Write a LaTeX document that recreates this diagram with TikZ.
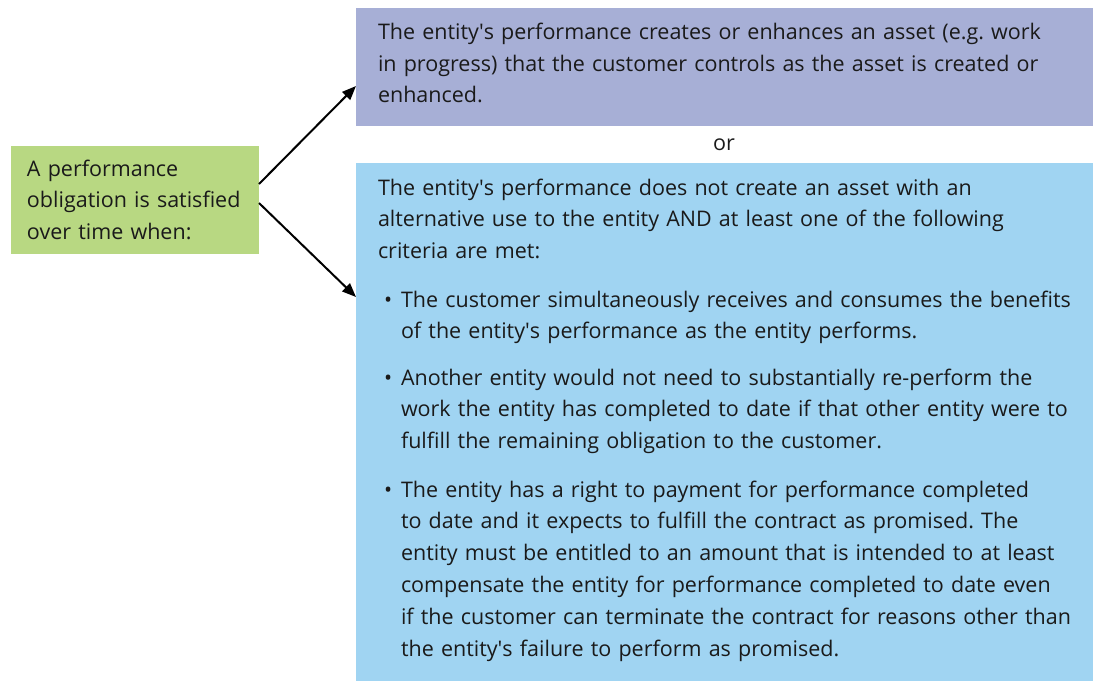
\documentclass[tikz,border=0pt]{standalone}
\usepackage{fontspec}
\setmainfont{Open Sans}
\usetikzlibrary{arrows.meta}
\definecolor{greenbox}{HTML}{B8D882}
\definecolor{purplebox}{HTML}{A7AFD6}
\definecolor{bluebox}{HTML}{A0D4F2}
\definecolor{txt}{HTML}{1A1A1A}
\newcommand{\ap}{\textquotesingle}
\tikzset{
  box/.style={draw=none, inner sep=0pt, outer sep=0pt},
  para/.style={anchor=base west, inner sep=0pt, outer sep=0pt, align=left, text width=720pt,
    text=txt, font=\fontsize{21.5}{31.8}\selectfont\frenchspacing},
  bul/.style={anchor=base west, inner sep=0pt, text=txt, font=\fontsize{21.5}{31.8}\selectfont},
  conn/.style={-{Triangle[length=14pt,width=11pt]}, line width=2pt, black}
}
\begin{document}
\begin{tikzpicture}[x=1pt,y=-1pt]
\useasboundingbox (0,0) rectangle (1098,681);
\fill[white] (0,0) rectangle (1098,681);
% boxes
\fill[greenbox] (11,146) rectangle (259,254);
\fill[purplebox] (356,8) rectangle (1093,126);
\fill[bluebox] (356,163) rectangle (1093,681);
\node[box, minimum width=248pt, minimum height=108pt] (start) at (135,200) {};
\node[box, minimum width=737pt, minimum height=118pt] (asset) at (724.5,67) {};
\node[box, minimum width=737pt, minimum height=518pt] (alt) at (724.5,422) {};
% texts
\node[para, text width=230pt] (t0) at (27,176) {A performance\\obligation is satisfied\\over time when:};
\node[para] (t1) at (378,39.3) {The entity\ap s performance creates or enhances an asset (e.g. work\\in progress) that the customer controls as the asset is created or\\enhanced.};
\node[anchor=base, inner sep=0pt, text=txt, font=\fontsize{21.5}{31.8}\selectfont] (or) at (724,150) {or};
\node[para] (t2) at (378,195) {The entity\ap s performance does not create an asset with an\\alternative use to the entity AND at least one of the following\\criteria are met:};
\node[bul] (b1) at (384,307) {•};
\node[para] (t3) at (401,307) {The customer simultaneously receives and consumes the benefits\\of the entity\ap s performance as the entity performs.};
\node[bul] (b2) at (384,385) {•};
\node[para] (t4) at (401,385) {Another entity would not need to substantially re-perform the\\work the entity has completed to date if that other entity were to\\fulfill the remaining obligation to the customer.};
\node[bul] (b3) at (384,497) {•};
\node[para] (t5) at (401,497) {The entity has a right to payment for performance completed\\to date and it expects to fulfill the contract as promised. The\\entity must be entitled to an amount that is intended to at least\\compensate the entity for performance completed to date even\\if the customer can terminate the contract for reasons other than\\the entity\ap s failure to perform as promised.};
% connectors
\coordinate (s1) at (259,184);
\coordinate (s2) at (259,203);
\draw[conn] (s1) -- (asset.west |- 0,86);
\draw[conn] (s2) -- (alt.west |- 0,297);
\end{tikzpicture}
\end{document}
